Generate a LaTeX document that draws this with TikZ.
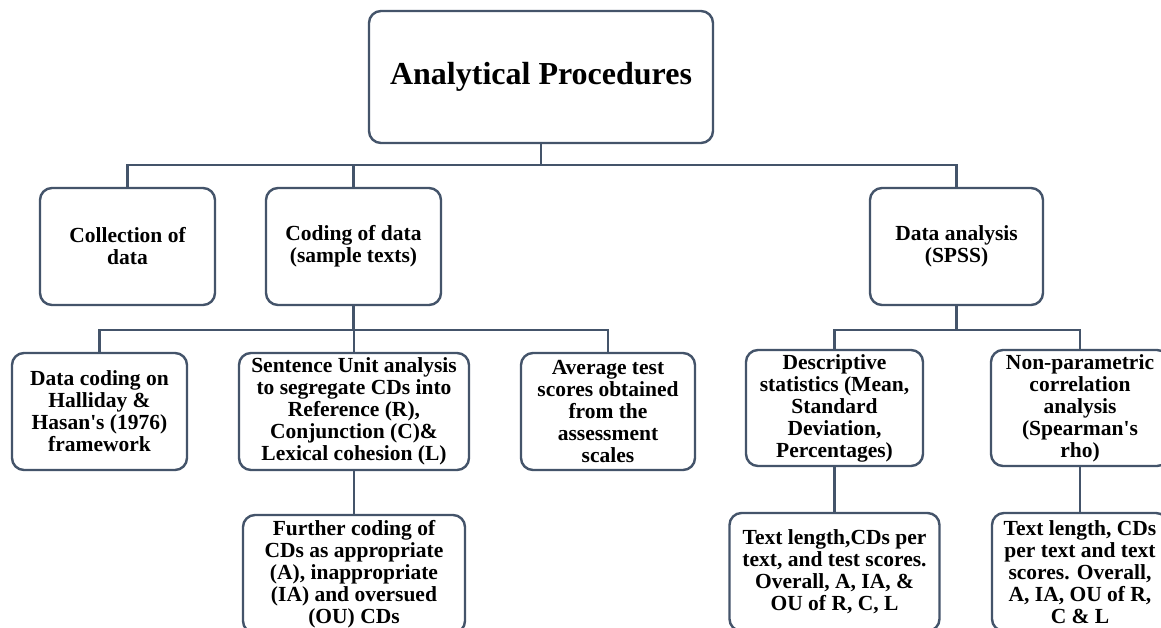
\documentclass[tikz,border=0pt]{standalone}
\usepackage{fontspec}
\setmainfont{Liberation Serif}
\definecolor{linec}{HTML}{44546A}
\begin{document}
\begin{tikzpicture}[x=1pt,y=-1pt,
  box/.style={draw=linec, line width=2.4pt, rounded corners=12pt, rectangle,
    inner sep=0pt, align=center, font=\bfseries\fontsize{21.5}{22}\selectfont},
  conn/.style={draw=linec, line width=2.4pt}]
\clip (0,0) rectangle (1161,627);
\fill[white] (0,0) rectangle (1161,627);
% level 1
\node[box, minimum width=344, minimum height=132, font=\bfseries\fontsize{32}{36}\selectfont] (top) at (541,77) {Analytical Procedures};
% level 2
\node[box, minimum width=175, minimum height=117] (coll) at (127.5,246.5) {Collection of\\data};
\node[box, minimum width=175, minimum height=117] (cod) at (353.5,246.5) {Coding of data\\(sample texts)};
\node[box, minimum width=173, minimum height=117] (da) at (956.5,246.5) {Data analysis\\(SPSS)};
% level 3
\node[box, minimum width=175, minimum height=117] (dc) at (99.5,411.5) {Data coding on\\Halliday \&\\Hasan\textquotesingle s (1976)\\framework};
\node[box, minimum width=230, minimum height=117] (su) at (354,411.5) {Sentence Unit analysis\\to segregate CDs into\\Reference (R),\\Conjunction (C)\&\\Lexical cohesion (L)};
\node[box, minimum width=174, minimum height=117] (avg) at (608,411.5) {Average test\\scores obtained\\from the\\assessment\\scales};
\node[box, minimum width=177, minimum height=116] (desc) at (834.5,408) {Descriptive\\statistics (Mean,\\Standard\\Deviation,\\Percentages)};
\node[box, minimum width=178, minimum height=116] (np) at (1080,408) {Non-parametric\\correlation\\analysis\\(Spearman\textquotesingle s\\rho)};
% level 4
\node[box, minimum width=222, minimum height=118] (fc) at (354,574) {Further coding of\\CDs as appropriate\\(A), inappropriate\\(IA) and oversued\\(OU) CDs};
\node[box, minimum width=210, minimum height=118] (td) at (834.5,572) {Text length,CDs per\\text, and test scores.\\Overall, A, IA, \&\\OU of R, C, L};
\node[box, minimum width=176, minimum height=118] (tn) at (1080,572) {Text length, CDs\\per text and text\\scores. Overall,\\A, IA, OU of R,\\C \& L};
% connectors
\coordinate (b1) at (0,165);
\coordinate (b2) at (0,330);
\draw[conn] (top.south) -- (top.south |- b1);
\draw[conn] (coll.north) -- (coll.north |- b1) -| (da.north);
\draw[conn] (cod.north) -- (cod.north |- b1);
\draw[conn] (cod.south) -- (cod.south |- b2);
\draw[conn] (dc.north) -- (dc.north |- b2) -| (avg.north);
\draw[conn] (su.north) -- (su.north |- b2);
\draw[conn] (da.south) -- (da.south |- b2);
\draw[conn] (desc.north) -- (desc.north |- b2) -| (np.north);
\draw[conn] (su.south) -- (fc.north);
\draw[conn] (desc.south) -- (td.north);
\draw[conn] (np.south) -- (tn.north);
\end{tikzpicture}
\end{document}
